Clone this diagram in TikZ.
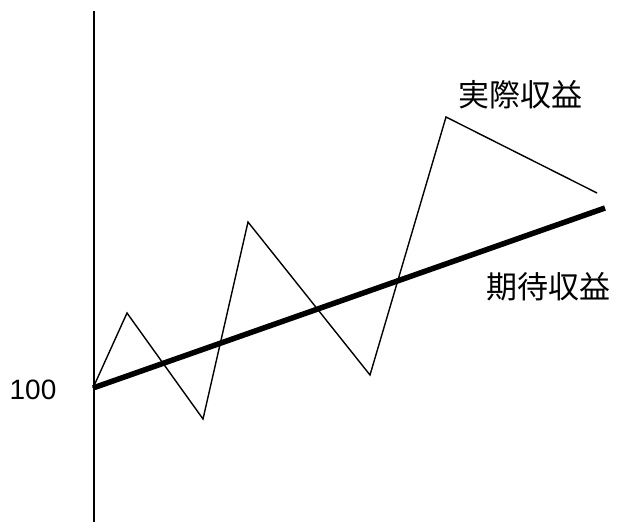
\documentclass[tikz,border=0pt]{standalone}
\usepackage{fontspec}
\setmainfont{Liberation Sans}
\newfontfamily\jpfont{Noto Sans CJK JP}
\begin{document}
\begin{tikzpicture}[x=1bp, y=-1bp]
    \useasboundingbox (0,0) rectangle (618,522);
    % Draw axis
    \coordinate (top) at (94, 11);
    \coordinate (bottom) at (94, 522);
    \draw[line width=1.5bp] (top) -- (bottom);

    % Draw points of the actual return
    \coordinate (0) at (93, 388);
    \coordinate (1) at (127, 313);
    \coordinate (2) at (203, 419);
    \coordinate (3) at (248, 222);
    \coordinate (4) at (370, 375);
    \coordinate (5) at (446, 117);
    \coordinate (6) at (597, 193);
    \coordinate (e) at (605, 208);

    % Draw lines
    \draw[line width=1.4bp, line join=miter] (0) -- (1) -- (2) -- (3) -- (4) -- (5) -- (6); % actual
    \draw[line width=5.5bp] (0) -- (e); % expected

    % Draw labels
    \node[font=\fontsize{28bp}{30bp}\selectfont] (start) at (33, 390) {100};
    \node[font=\jpfont\fontsize{31bp}{34bp}\selectfont] (actual) at (520, 95) {実際収益};
    \node[font=\jpfont\fontsize{31bp}{34bp}\selectfont] (expected) at (548, 287) {期待収益};
\end{tikzpicture}
\end{document}
